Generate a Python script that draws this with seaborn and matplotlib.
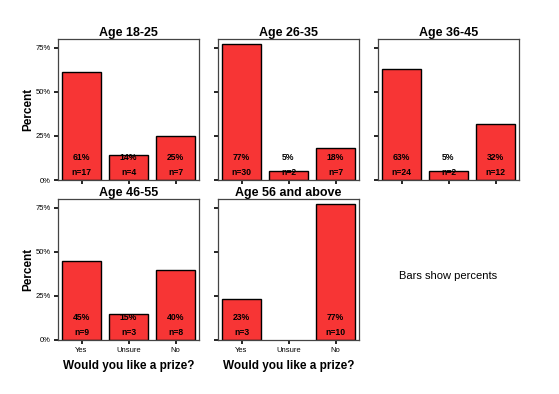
import numpy as np
import pandas as pd
import matplotlib
matplotlib.use('Agg')
import matplotlib.pyplot as plt
import seaborn as sns

sns.set_style('white')
plt.rcParams['font.family'] = ['Liberation Sans', 'DejaVu Sans']
plt.rcParams['text.color'] = 'black'
plt.rcParams['axes.labelcolor'] = 'black'
plt.rcParams['xtick.color'] = 'black'
plt.rcParams['ytick.color'] = 'black'

# data
answers = ['Yes', 'Unsure', 'No']
groups = ['Age 18-25', 'Age 26-35', 'Age 36-45', 'Age 46-55', 'Age 56 and above']
pct_18_25 = [61, 14, 25]
pct_26_35 = [77, 5, 18]
pct_36_45 = [63, 5, 32]
pct_46_55 = [45, 15, 40]
pct_56_up = [23, 0, 77]
n_18_25 = [17, 4, 7]
n_26_35 = [30, 2, 7]
n_36_45 = [24, 2, 12]
n_46_55 = [9, 3, 8]
n_56_up = [3, 0, 10]

pcts = [pct_18_25, pct_26_35, pct_36_45, pct_46_55, pct_56_up]
ns = [n_18_25, n_26_35, n_36_45, n_46_55, n_56_up]

rows = []
for g, p, n in zip(groups, pcts, ns):
    for a, pv, nv in zip(answers, p, n):
        rows.append({'group': g, 'answer': a, 'pct': pv, 'n': nv})
df = pd.DataFrame(rows)

red = '#f73535'

fig = plt.figure(figsize=(5.59, 3.94), dpi=100)
W, H = 559, 394
lefts = [58, 218, 378]
tops = [39, 199]
aw, ah = 141, 141

for i, g in enumerate(groups):
    r, c = divmod(i, 3)
    ax = fig.add_axes([lefts[c] / W, 1 - (tops[r] + ah) / H, aw / W, ah / H])
    sub = df[df['group'] == g]
    sns.barplot(data=sub, x='answer', y='pct', order=answers, color=red,
                edgecolor='black', linewidth=1.0, width=0.85, saturation=1, ax=ax)
    # no outline for empty bars
    for p in ax.patches:
        if p.get_height() == 0:
            p.set_visible(False)
    for j, a in enumerate(answers):
        row = sub[sub['answer'] == a].iloc[0]
        if row['n'] == 0:
            continue
        ax.text(j, 13, f"{row['pct']}%", ha='center', va='center', fontsize=6.2,
                fontweight='bold')
        ax.text(j, 4, f"n={row['n']}", ha='center', va='center', fontsize=6.2,
                fontweight='bold')
    ax.set_ylim(0, 80)
    ax.set_xlim(-0.5, 2.5)
    ax.set_yticks([0, 25, 50, 75])
    ax.set_title(g, fontsize=9, fontweight='bold', pad=2)
    ax.tick_params(axis='both', direction='out', length=3, width=1.2, color='black',
                   labelsize=5.5, pad=2, bottom=True, left=True)
    for s in ax.spines.values():
        s.set_color('#444444')
        s.set_linewidth(0.9)
    if c == 0:
        ax.set_yticklabels(['0%', '25%', '50%', '75%'])
        ax.set_ylabel('Percent', fontsize=8.5, fontweight='bold', labelpad=1)
    else:
        ax.set_yticklabels([])
        ax.set_ylabel('')
    if r == 1:
        ax.set_xticklabels(answers)
        ax.set_xlabel('Would you like a prize?', fontsize=8.5, fontweight='bold', labelpad=4)
    else:
        ax.set_xticklabels([])
        ax.set_xlabel('')

fig.text(448 / W, 1 - 276 / H, 'Bars show percents', ha='center', va='center', fontsize=8)

plt.savefig('out.png', dpi=100)
